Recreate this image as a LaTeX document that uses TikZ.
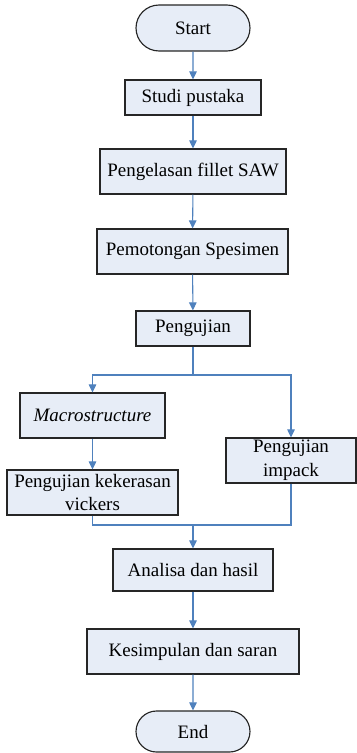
\documentclass[tikz,border=0pt]{standalone}
\usepackage{fontspec}
\setmainfont{Liberation Serif}
\newfontfamily\flowfont{Liberation Serif}
\usetikzlibrary{arrows.meta,shapes.misc}

\definecolor{boxfill}{RGB}{231,237,247}
\definecolor{flowblue}{RGB}{79,129,189}

\tikzset{
  box/.style={draw=black!85, fill=boxfill, line width=0.65pt, inner sep=0pt,
    align=center, font=\flowfont\fontsize{10.8}{13.6}\selectfont},
  terminal/.style={box, rounded rectangle},
  flow/.style={draw=flowblue, line width=0.6pt},
  flowarrow/.style={flow, -{Triangle[length=0.16cm,width=0.15cm]}}
}

\begin{document}
\begin{tikzpicture}[x=0.02cm, y=-0.02cm]
    \useasboundingbox (0,0) rectangle (356,753);

    % main column
    \node[terminal, minimum width=2.28cm, minimum height=0.92cm] (start) at (193,28) {Start};
    \node[box, minimum width=2.72cm, minimum height=0.70cm] (studi) at (193,97.5) {Studi pustaka};
    \node[box, minimum width=3.72cm, minimum height=0.90cm] (las) at (193,171.5) {Pengelasan fillet SAW};
    \node[box, minimum width=3.82cm, minimum height=0.90cm] (potong) at (192.5,251.5) {Pemotongan Spesimen};
    \node[box, minimum width=2.28cm, minimum height=0.70cm] (uji) at (193,328.5) {Pengujian};

    % two branches
    \node[box, minimum width=2.90cm, minimum height=0.90cm] (macro) at (92.5,415.5) {\textit{Macrostructure}};
    \node[box, minimum width=3.42cm, minimum height=0.90cm] (vickers) at (92.5,492.5) {Pengujian kekerasan\\vickers};
    \node[box, minimum width=2.60cm, minimum height=0.90cm] (impack) at (291,460.5) {Pengujian\\impack};

    % end of the column
    \node[box, minimum width=3.20cm, minimum height=0.84cm] (analisa) at (193,570) {Analisa dan hasil};
    \node[box, minimum width=4.24cm, minimum height=0.90cm] (kesimpulan) at (193,651.5) {Kesimpulan dan saran};
    \node[terminal, minimum width=2.28cm, minimum height=0.82cm] (end) at (193,731.5) {End};

    \coordinate (split) at (193,375);
    \coordinate (join) at (193,525);

    % connectors
    \draw[flowarrow] (start) -- (studi);
    \draw[flowarrow] (studi) -- (las);
    \draw[flowarrow] (las) -- (potong);
    \draw[flowarrow] (potong) -- (uji);
    \draw[flow] (uji) -- (split);
    \draw[flowarrow] (split) -| (macro);
    \draw[flowarrow] (split) -| (impack);
    \draw[flowarrow] (macro) -- (vickers);
    \draw[flow] (vickers.south) |- (join);
    \draw[flow] (impack.south) |- (join);
    \draw[flowarrow] (join) -- (analisa);
    \draw[flowarrow] (analisa) -- (kesimpulan);
    \draw[flowarrow] (kesimpulan) -- (end);
\end{tikzpicture}
\end{document}
